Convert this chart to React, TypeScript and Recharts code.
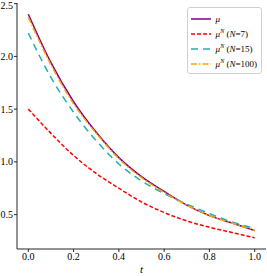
import { LineChart, Line, XAxis, YAxis, Legend } from 'recharts'

const tValues = [0, 0.1, 0.2, 0.3, 0.4, 0.5, 0.6, 0.7, 0.8, 0.9, 1.0]
const muValues = [2.4, 1.94, 1.57, 1.28, 1.04, 0.86, 0.72, 0.59, 0.49, 0.42, 0.35]
const n7Values = [1.5, 1.27, 1.06, 0.89, 0.75, 0.62, 0.52, 0.44, 0.38, 0.33, 0.28]
const n15Values = [2.22, 1.8, 1.47, 1.2, 0.98, 0.82, 0.7, 0.6, 0.51, 0.43, 0.37]
const n100Values = [2.37, 1.92, 1.55, 1.27, 1.03, 0.85, 0.71, 0.59, 0.49, 0.42, 0.35]

const xTicks = [0, 0.2, 0.4, 0.6, 0.8, 1.0]
const yTicks = [0.5, 1.0, 1.5, 2.0, 2.5]

const series = [
  { key: 'mu', n: null, color: '#800080', dash: undefined },
  { key: 'n7', n: 7, color: '#ff0000', dash: '4 2' },
  { key: 'n15', n: 15, color: '#20b2aa', dash: '7 5' },
  { key: 'n100', n: 100, color: '#ffa500', dash: '6 2 1.5 2' },
]

const data = tValues.map((t, i) => ({
  t,
  mu: muValues[i],
  n7: n7Values[i],
  n15: n15Values[i],
  n100: n100Values[i],
}))

const font = 'Liberation Serif, Times New Roman, serif'
const axisColor = '#262626'

function LegendBox() {
  return (
    <div
      style={{
        border: '1px solid #d0d0d0',
        borderRadius: 3,
        background: 'rgba(255,255,255,0.85)',
        padding: '3px 4px 2px 3px',
        fontFamily: font,
        fontSize: 9,
        color: '#000',
      }}
    >
      {series.map((s) => (
        <div key={s.key} style={{ display: 'flex', alignItems: 'center', height: 15 }}>
          <svg width={20} height={8} style={{ marginRight: 5 }}>
            <line x1={0} y1={4} x2={20} y2={4} stroke={s.color} strokeWidth={1.5} strokeDasharray={s.dash} />
          </svg>
          <span style={{ whiteSpace: 'nowrap' }}>
            <i>μ</i>
            {s.n !== null && (
              <>
                <sup style={{ fontSize: 6 }}>
                  <i>N</i>
                </sup>{' '}
                (<i>N</i>={s.n})
              </>
            )}
          </span>
        </div>
      ))}
    </div>
  )
}

export default function App() {
  return (
    <div style={{ position: 'absolute', left: 0, top: 0, width: 267, height: 276, background: '#fff' }}>
      <LineChart width={267} height={276} data={data} margin={{ top: 3, right: 1, bottom: 0, left: 0 }}>
        <XAxis
          dataKey="t"
          type="number"
          domain={[-0.05, 1.05]}
          ticks={xTicks}
          tickFormatter={(v: number) => v.toFixed(1)}
          height={27}
          tickSize={3}
          tickMargin={1}
          stroke={axisColor}
          tick={{ fill: '#000', fontSize: 10, fontFamily: font }}
          label={{ value: 't', position: 'insideBottom', offset: 3, fill: '#000', fontSize: 11, fontFamily: font, fontStyle: 'italic' }}
          allowDataOverflow
        />
        <XAxis
          xAxisId="top"
          orientation="top"
          type="number"
          domain={[0, 1]}
          height={0}
          tick={false}
          tickLine={false}
          stroke={axisColor}
        />
        <YAxis
          type="number"
          domain={[0.174, 2.506]}
          ticks={yTicks}
          tickFormatter={(v: number) => v.toFixed(1)}
          width={17}
          tickSize={3}
          tickMargin={1}
          stroke={axisColor}
          tick={{ fill: '#000', fontSize: 10, fontFamily: font }}
          allowDataOverflow
        />
        <YAxis
          yAxisId="right"
          orientation="right"
          type="number"
          domain={[0, 1]}
          width={0}
          tick={false}
          tickLine={false}
          stroke={axisColor}
        />
        <Legend
          layout="horizontal"
          verticalAlign="middle"
          align="center"
          wrapperStyle={{ top: 7, right: 5, width: 'auto', left: 'auto' }}
          content={() => <LegendBox />}
        />
        {series.map((s) => (
          <Line
            key={s.key}
            dataKey={s.key}
            type="monotone"
            stroke={s.color}
            strokeWidth={1.5}
            strokeDasharray={s.dash}
            dot={false}
            activeDot={false}
            isAnimationActive={false}
          />
        ))}
      </LineChart>
    </div>
  )
}
